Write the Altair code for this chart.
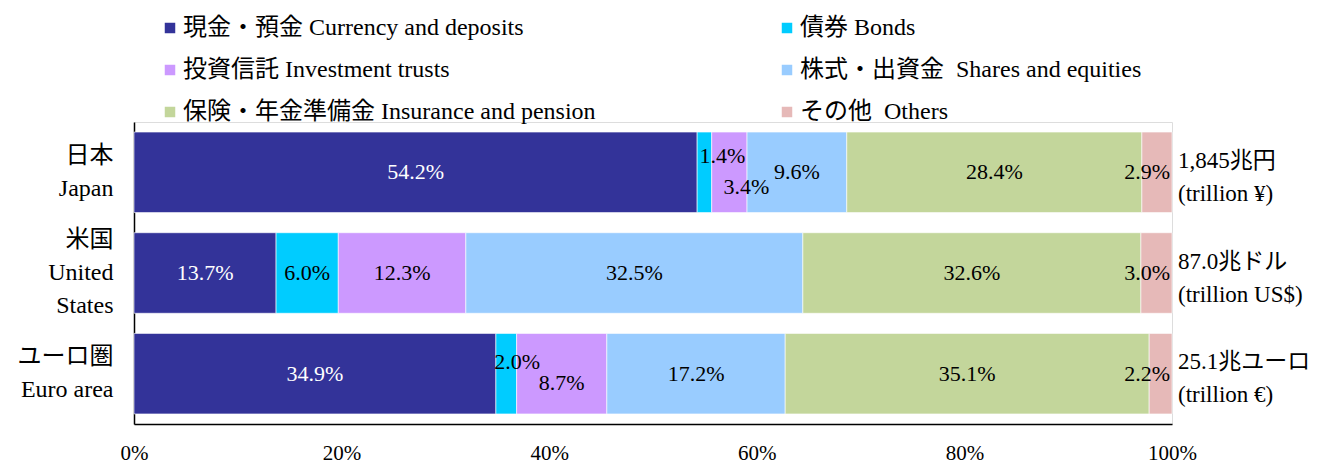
import altair as alt
import pandas as pd

FONT = "Liberation Serif, Noto Sans CJK JP"

countries = ["日本|Japan", "米国|United|States", "ユーロ圏|Euro area"]
totals = ["1,845兆円|(trillion ¥)", "87.0兆ドル|(trillion US$)", "25.1兆ユーロ|(trillion €)"]
categories = [
    "現金・預金 Currency and deposits",
    "債券 Bonds",
    "投資信託 Investment trusts",
    "株式・出資金 \u00a0Shares and equities",
    "保険・年金準備金 Insurance and pension",
    "その他 \u00a0Others",
]
japan = [54.2, 1.4, 3.4, 9.6, 28.4, 2.9]
united_states = [13.7, 6.0, 12.3, 32.5, 32.6, 3.0]
euro_area = [34.9, 2.0, 8.7, 17.2, 35.1, 2.2]
colors = ["#333399", "#00CCFF", "#CC99FF", "#99CCFF", "#C3D69B", "#E6B9B8"]
x_ticks = [0, 0.2, 0.4, 0.6, 0.8, 1.0]

rows = []
for ci, (country, values) in enumerate(zip(countries, [japan, united_states, euro_area])):
    for oi, (cat, v) in enumerate(zip(categories, values)):
        rows.append({"country": country, "ci": ci, "category": cat, "order": oi, "value": v})
df = pd.DataFrame(rows)
tot_df = pd.DataFrame({"country": countries, "total": totals})

x_scale = alt.Scale(domain=[0, 1], nice=False, zero=True)
y_enc = alt.Y(
    "country:N",
    sort=countries,
    scale=alt.Scale(paddingInner=0.2, paddingOuter=0.1),
    axis=alt.Axis(
        title=None, labelExpr="split(datum.label, '|')", labelFont=FONT, labelFontSize=24,
        labelLineHeight=33, labelAlign="right", labelPadding=21, ticks=False,
        labelOffset={"condition": {"test": "indexof(datum.value, 'States') >= 0", "value": -33},
                     "value": -16.5},
        domainColor="black", domainWidth=1.5, labelColor="black", labelLimit=300,
    ),
)

base = alt.Chart(df).transform_stack(
    stack="value", groupby=["country"], as_=["x0", "x1"], offset="normalize",
    sort=[alt.SortField("order", order="ascending")],
).transform_calculate(
    mid="(datum.x0 + datum.x1) / 2",
    label="format(datum.value, '.1f') + '%'",
)

bars = base.mark_bar(stroke="white", strokeWidth=0.6).encode(
    x=alt.X(
        "x0:Q", scale=x_scale,
        axis=alt.Axis(
            format="%", values=x_ticks, title=None, grid=False, ticks=False, labelFlush=False,
            labelPadding=18, labelFont=FONT, labelFontSize=21, labelColor="black",
            domainColor="black", domainWidth=1.5,
        ),
    ),
    x2="x1:Q",
    y=y_enc,
    color=alt.Color(
        "category:N", sort=categories,
        scale=alt.Scale(domain=categories, range=colors),
        legend=alt.Legend(
            title=None, orient="none", direction="horizontal", legendX=24, legendY=-106,
            columns=2, columnPadding=179, rowPadding=18, symbolType="square", symbolSize=110,
            symbolStrokeWidth=0, labelFont=FONT, labelFontSize=24, labelColor="black",
            labelOffset=1, labelLimit=600, padding=0,
        ),
    ),
    order=alt.Order("order:Q"),
)

txt_color = alt.condition("datum.order == 0", alt.value("white"), alt.value("black"))
special = "(datum.ci == 0 || datum.ci == 2) && (datum.order == 1 || datum.order == 2)"

normal = base.transform_filter(f"!({special}) && datum.order != 5").mark_text(
    font=FONT, fontSize=22
).encode(x=alt.X("mid:Q", scale=x_scale), y=y_enc, text="label:N", color=txt_color)

others = base.transform_filter("datum.order == 5").mark_text(
    font=FONT, fontSize=22, align="right", dx=-2
).encode(x=alt.X("x1:Q", scale=x_scale), y=y_enc, text="label:N", color=alt.value("black"))


def one(ci, oi, dx, dy):
    return base.transform_filter(f"datum.ci == {ci} && datum.order == {oi}").mark_text(
        font=FONT, fontSize=22, dx=dx, dy=dy
    ).encode(x=alt.X("mid:Q", scale=x_scale), y=y_enc, text="label:N", color=alt.value("black"))


jp_bonds = one(0, 1, 18, -16)
jp_inv = one(0, 2, 17, 15)
ea_bonds = one(2, 1, 11, -12)
ea_inv = one(2, 2, 0, 9)

totals_layer = alt.Chart(tot_df).mark_text(
    font=FONT, fontSize=23, align="left", dx=6, dy=-11.5, lineBreak="|", lineHeight=33,
    color="black"
).encode(x=alt.X(datum=1, type="quantitative", scale=x_scale), y=y_enc, text="total:N")

chart = alt.layer(
    bars, normal, others, jp_bonds, jp_inv, ea_bonds, ea_inv, totals_layer
).properties(
    width=1038, height=302,
    autosize=alt.AutoSizeParams(type="none"),
    padding={"left": 126, "top": 114, "right": 140, "bottom": 60},
).configure_view(stroke=None).configure(font=FONT)

chart.save("out.html", embed_options={"renderer": "svg", "actions": False})
